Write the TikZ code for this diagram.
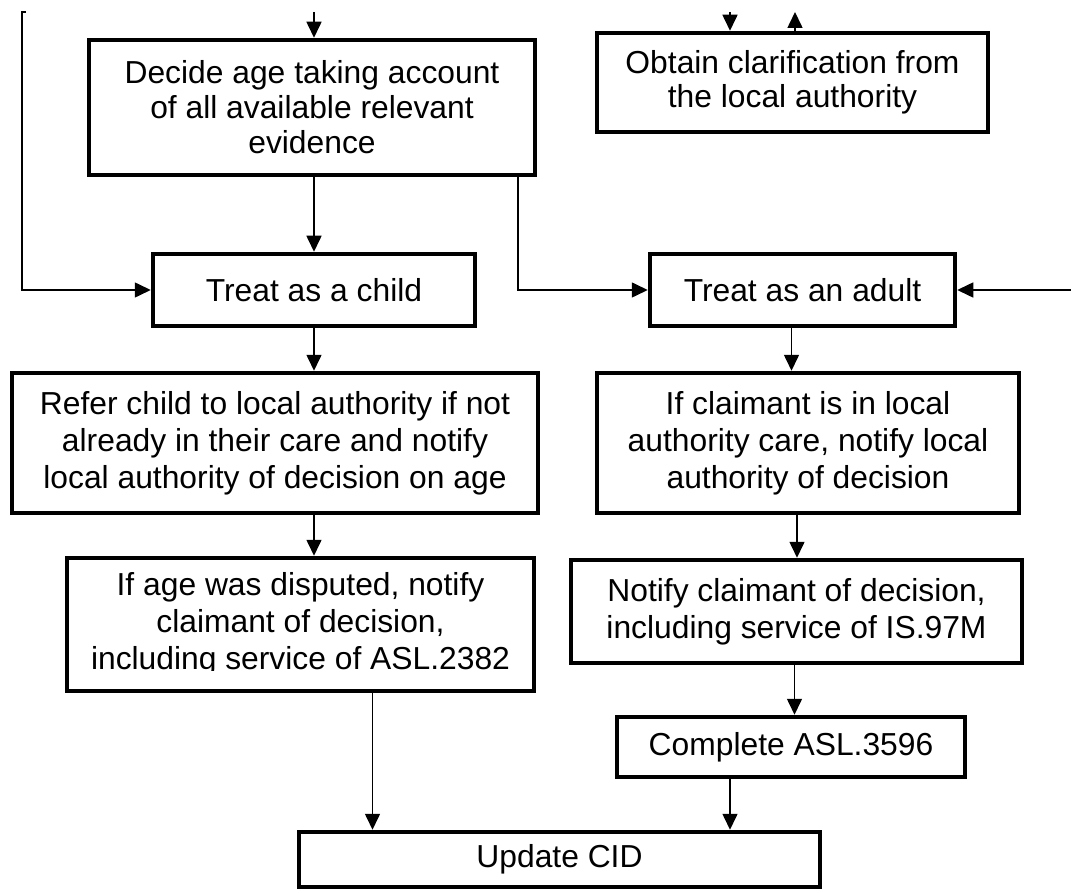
\documentclass[tikz,border=0pt]{standalone}
\usepackage{fontspec}
\setmainfont{Liberation Sans}
\usetikzlibrary{arrows.meta, calc, positioning}

\begin{document}
\begin{tikzpicture}[x=1pt, y=-1pt,
    box/.style={draw, line width=4.5pt, align=center, inner sep=0pt,
                font=\fontsize{31.8}{37}\selectfont},
    arr/.style={-{Triangle[length=16pt, width=15pt]}, line width=1.6pt}]
        \useasboundingbox (0,0) rectangle (1071,893);

        % boxes
        \node[box, font=\fontsize{31.8}{35}\selectfont, minimum width=446pt, minimum height=135pt] (decide) at (312,107.5)
             {Decide age taking account\\of all available relevant\\evidence};
        \node[box, font=\fontsize{31.8}{34}\selectfont, minimum width=391pt, minimum height=99pt] (obtain) at (792.5,82.5)
             {Obtain clarification from\\the local authority};
        \node[box, minimum width=322pt, minimum height=72pt] (child) at (314,290) {Treat as a child};
        \node[box, minimum width=305pt, minimum height=72pt] (adult) at (802.5,290) {Treat as an adult};
        \node[box, minimum width=526pt, minimum height=140pt] (refer) at (275,443)
             {Refer child to local authority if not\\already in their care and notify\\local authority of decision on age};
        \node[box, minimum width=422pt, minimum height=140pt] (claim) at (808,443)
             {If claimant is in local\\authority care, notify local\\authority of decision};
        \node[box, minimum width=467pt, minimum height=133pt] (disputed) at (300.5,624.5)
             {If age was disputed, notify\\claimant of decision,\\including service of ASL.2382};
        % last line cut off at its baseline
        \fill[white] (71,670.5) rectangle (530,688.5);
        \node[box, minimum width=451pt, minimum height=103pt] (notify) at (796.5,611.5)
             {Notify claimant of decision,\\including service of IS.97M};
        \node[box, minimum width=348pt, minimum height=60pt] (complete) at (791,747) {Complete ASL.3596};
        \node[box, minimum width=521pt, minimum height=55pt] (update) at (559.5,859.5) {Update CID};

        % loose ends
        \coordinate (dtop) at (314,12);
        \coordinate (otop) at (730,12);
        \coordinate (oup) at (795,12);
        \coordinate (lb) at (22,12);
        \coordinate (rin) at (1071,290);

        % connectors
        \draw[arr] (dtop) -- (dtop |- decide.north);
        \draw[arr] (otop) -- (otop |- obtain.north);
        \draw[arr] (oup |- obtain.north) -- (oup);
        \draw[arr] ([xshift=4pt]lb) -- (lb) -- (lb |- child.west) -- (child.west);
        \draw[arr] (child.north |- decide.south) -- (child.north);
        \draw[arr] ([xshift=-19pt]decide.south east) |- (adult.west);
        \draw[arr] (rin) -- (adult.east);
        \draw[arr] (child.south) -- (child.south |- refer.north);
        \draw[arr] ([xshift=-11pt]adult.south) -- ([xshift=-11pt]adult.south |- claim.north);
        \draw[arr] (refer.south -| child.south) -- (disputed.north -| child.south);
        \draw[arr] ([xshift=-11pt]claim.south) -- ([xshift=-11pt]claim.south |- notify.north);
        \draw[arr] ([xshift=-2pt]notify.south) -- ([xshift=-2pt]notify.south |- complete.north);
        \draw[arr] ([xshift=72pt]disputed.south) -- ([xshift=72pt]disputed.south |- update.north);
        \draw[arr] ([xshift=-61pt]complete.south) -- ([xshift=-61pt]complete.south |- update.north);
    \end{tikzpicture}
\end{document}
